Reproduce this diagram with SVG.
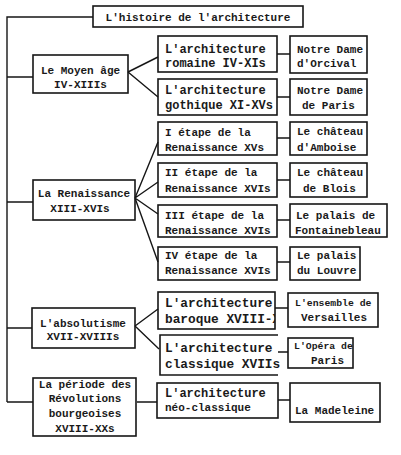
<svg xmlns="http://www.w3.org/2000/svg" width="401" height="455" viewBox="0 0 401 455">
<style>
.b{fill:none;stroke:#161616;stroke-width:1.6}
.c{fill:none;stroke:#161616;stroke-width:1.4}
text{font-family:"Liberation Mono","DejaVu Sans Mono",monospace;font-weight:bold;fill:#1a1a1a;font-size:11px}
.m{text-anchor:middle}
.a{font-size:12px}
.big{font-size:12.8px}
.s{font-size:9.8px}
</style>
<defs>
<clipPath id="clipBar"><rect x="159" y="293" width="116" height="35"/></clipPath>
</defs>
<rect width="401" height="455" fill="#fff"/>
<g id="connectors">
<path class="c" d="M93 17H7V402M7 77H33M7 202H33M7 328H32M7 402H33"/>
<path class="c" d="M128 72L158 57M128 72L158 97"/>
<path class="c" d="M135 198L158 142M135 198L158 182M135 198L158 214M135 198L158 262"/>
<path class="c" d="M135 326L158 309M135 326L159 349"/>
<path class="c" d="M277 54H290M277 97H290M277 138H290M277 180H290M277 220H290M277 262H290M275 308H288M278 352H288M137 402H157M278 400H290"/>
</g>
<g id="title"><rect class="b" x="93" y="6" width="210" height="21"/><text class="m" x="198" y="21">L'histoire de l'architecture</text></g>
<g id="moyen"><rect class="b" x="33" y="55" width="95" height="38"/><text class="m" x="80.5" y="74">Le Moyen âge</text><text class="m" x="80.5" y="88">IV-XIIIs</text></g>
<g id="romane"><rect class="b" x="158" y="36" width="119" height="36"/><text class="a" x="165" y="53">L'architecture</text><text class="a" x="165" y="67">romaine IV-XIs</text></g>
<g id="gothique"><rect class="b" x="158" y="79" width="119" height="36"/><text class="a" x="165" y="94">L'architecture</text><text class="a" x="165" y="109">gothique XI-XVs</text></g>
<g id="orcival"><rect class="b" x="290" y="36" width="77" height="37"/><text x="297" y="53">Notre Dame</text><text x="297" y="67">d'Orcival</text></g>
<g id="ndparis"><rect class="b" x="290" y="79" width="77" height="36"/><text x="297" y="94">Notre Dame</text><text x="302" y="109">de Paris</text></g>
<g id="renaissance"><rect class="b" x="33" y="180" width="102" height="40"/><text class="m" x="84" y="197">La Renaissance</text><text class="m" x="80" y="212">XIII-XVIs</text></g>
<g id="etape1"><rect class="b" x="158" y="122" width="119" height="33"/><text x="165" y="136">I étape de la</text><text x="165" y="151">Renaissance XVs</text></g>
<g id="etape2"><rect class="b" x="158" y="163" width="119" height="34"/><text x="165" y="176">II étape de la</text><text x="165" y="192">Renaissance XVIs</text></g>
<g id="etape3"><rect class="b" x="158" y="205" width="119" height="32"/><text x="165" y="219">III étape de la</text><text x="165" y="234">Renaissance XVIs</text></g>
<g id="etape4"><rect class="b" x="158" y="247" width="119" height="33"/><text x="165" y="259">IV étape de la</text><text x="165" y="274">Renaissance XVIs</text></g>
<g id="amboise"><rect class="b" x="290" y="122" width="77" height="33"/><text x="297" y="135">Le château</text><text x="297" y="151">d'Amboise</text></g>
<g id="blois"><rect class="b" x="290" y="163" width="77" height="34"/><text x="297" y="176">Le château</text><text x="303" y="192">de Blois</text></g>
<g id="fontainebleau"><rect class="b" x="290" y="204" width="97" height="33"/><text x="296" y="219">Le palais de</text><text x="295" y="234">Fontainebleau</text></g>
<g id="louvre"><rect class="b" x="290" y="247" width="70" height="33"/><text x="297" y="259">Le palais</text><text x="297" y="274">du Louvre</text></g>
<g id="absolutisme"><rect class="b" x="32" y="308" width="103" height="40"/><text class="m" x="83" y="327">L'absolutisme</text><text class="m" x="83" y="340">XVII-XVIIIs</text></g>
<g id="baroque"><rect class="b" x="158" y="292" width="117" height="37" stroke-width="2"/><text class="big" x="165" y="307">L'architecture</text><text class="big" x="165" y="323" clip-path="url(#clipBar)">baroque XVIII-X</text></g>
<g id="classique"><path class="b" d="M278 335H160V375H278" stroke-width="2"/><text class="big" x="165" y="352">L'architecture</text><text class="big" x="165" y="368">classique XVIIs</text></g>
<g id="versailles"><rect class="b" x="288" y="293" width="90" height="34"/><text class="s" x="295" y="306">L'ensemble de</text><text x="301" y="321">Versailles</text></g>
<g id="opera"><rect class="b" x="288" y="338" width="65" height="30"/><text class="s" x="294" y="349">L'Opéra de</text><text x="311" y="364">Paris</text></g>
<g id="revolutions"><rect class="b" x="33" y="378" width="103" height="58"/><text class="m" x="85" y="388">La période des</text><text class="m" x="85" y="402">Révolutions</text><text class="m" x="85" y="417">bourgeoises</text><text class="m" x="85" y="432">XVIII-XXs</text></g>
<g id="neoclassique"><rect class="b" x="157" y="383" width="121" height="35"/><text class="a" x="165" y="397">L'architecture</text><text x="165" y="411">néo-classique</text></g>
<g id="madeleine"><rect class="b" x="290" y="383" width="90" height="39"/><text x="295" y="414">La Madeleine</text></g>
</svg>
